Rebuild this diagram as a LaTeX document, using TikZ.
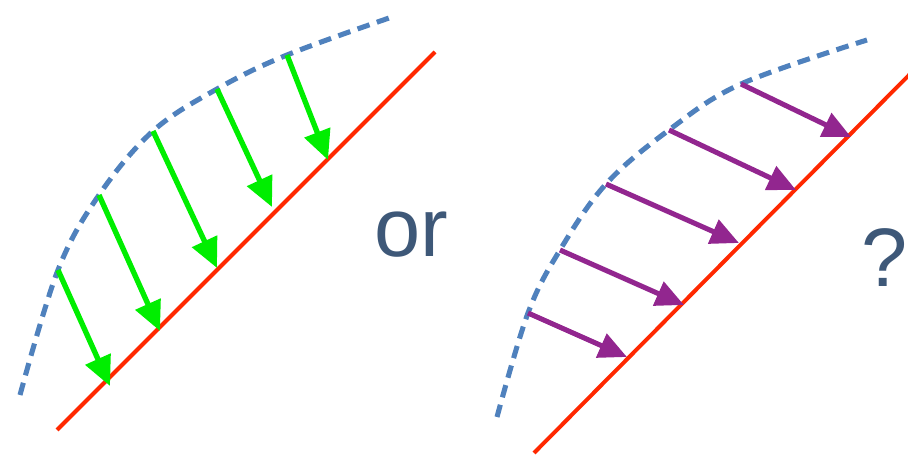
\documentclass[tikz,border=0pt]{standalone}
\usepackage{fontspec}
\usepackage{tikz}
\usetikzlibrary{arrows.meta, positioning}
\newfontfamily\labelfont{Liberation Sans}
\definecolor{curveblue}{RGB}{79,129,189}
\definecolor{surfred}{RGB}{255,40,0}
\definecolor{fieldgreen}{RGB}{0,238,0}
\definecolor{fieldpurple}{RGB}{146,38,143}
\definecolor{textslate}{RGB}{62,88,120}

\begin{document}
\begin{tikzpicture}[x=0.025cm, y=-0.025cm,
    surface/.style = {draw=surfred, line width=2.8pt},
    front/.style = {draw=curveblue, line width=3.6pt, dash pattern=on 9pt off 5.5pt},
    normalarrow/.style = {-{Triangle[length=21pt, width=19pt]}, draw=fieldgreen, line width=3.8pt},
    slantarrow/.style = {-{Triangle[length=20pt, width=18pt]}, draw=fieldpurple, line width=3.6pt},
    word/.style = {font=\labelfont\fontsize{59}{70}\selectfont, text=textslate, inner sep=0pt, anchor=base}
]
\useasboundingbox (0,0) rectangle (908,458);

% Left panel
\draw [surface] (57,430) -- (435,52);
\draw [front] plot[smooth, tension=0.6] coordinates {(20,395) (58,270) (99,195) (153,131) (217,89) (287,55) (392,17)};
\foreach \i/\sx/\sy/\ex/\ey in {1/58/270/110/386, 2/99/195/160/331, 3/153/131/217/268, 4/217/89/272/207, 5/287/55/328/160} {
    \coordinate (g\i s) at (\sx,\sy);
    \coordinate (g\i e) at (\ex,\ey);
    \draw [normalarrow] (g\i s) -- (g\i e);
}

\node (orword) [word] at (411,257) {or};

% Right panel
\draw [surface] (534,453) -- (912,72);
\draw [front] plot[smooth, tension=0.6] coordinates {(497,417) (528,313) (560,250) (606,184) (669,130) (741,84) (867,40)};
\foreach \i/\sx/\sy/\ex/\ey in {1/528/313/627/357, 2/560/250/684/305, 3/606/184/739/243, 4/669/130/796/190, 5/741/84/851/137} {
    \coordinate (p\i s) at (\sx,\sy);
    \coordinate (p\i e) at (\ex,\ey);
    \draw [slantarrow] (p\i s) -- (p\i e);
}

\node (qmark) [word] at (885,287) {?};

\end{tikzpicture}
\end{document}
